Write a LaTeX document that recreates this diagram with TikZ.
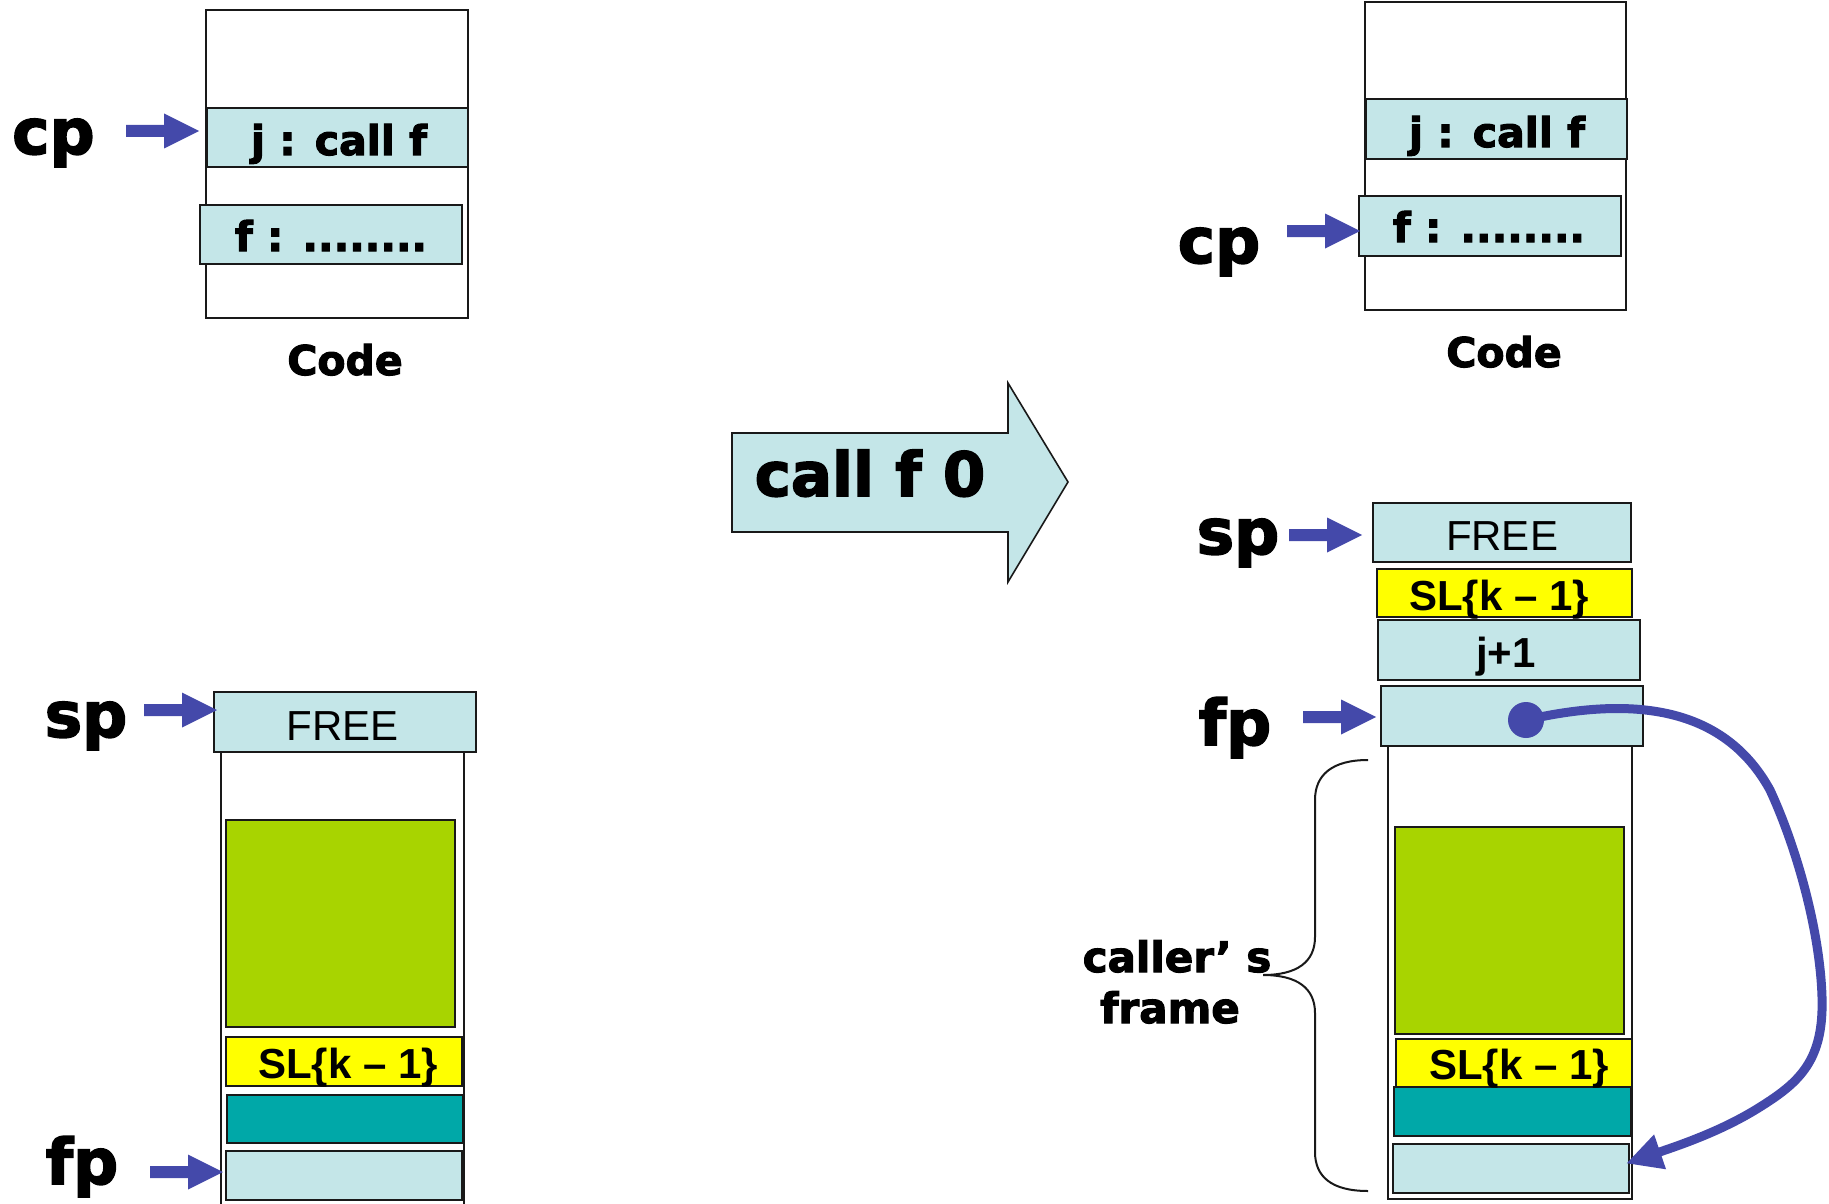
\documentclass[tikz,border=0pt]{standalone}
\usepackage{fontspec}
\setmainfont{Liberation Sans}
\newfontfamily\heavy{DejaVu Sans Bold}[FakeBold=2.5]
\usetikzlibrary{arrows.meta,calc}

\definecolor{cellcyan}{RGB}{196,230,232}
\definecolor{framegreen}{RGB}{168,212,0}
\definecolor{slyellow}{RGB}{255,255,0}
\definecolor{linkteal}{RGB}{0,168,168}
\definecolor{ptrblue}{RGB}{68,73,170}
\definecolor{edge}{RGB}{25,25,25}

\tikzset{
  box/.style={draw=edge, line width=2pt, inner sep=0pt, outer sep=0pt, anchor=north west},
  cell/.style={box, fill=cellcyan},
  greencell/.style={box, fill=framegreen},
  slcell/.style={box, fill=slyellow},
  tealcell/.style={box, fill=linkteal},
  codebox/.style={box, fill=white, line width=2.5pt},
  bigtxt/.style={inner sep=0pt, anchor=base, font=\heavy\fontsize{41}{48}\selectfont},
  regname/.style={inner sep=0pt, anchor=base, font=\heavy\fontsize{63}{70}\selectfont},
  plaintxt/.style={inner sep=0pt, anchor=base, font=\fontsize{42}{48}\selectfont},
  boldtxt/.style={inner sep=0pt, anchor=base, font=\bfseries\fontsize{42}{48}\selectfont},
  pointer/.pic={
    \fill[ptrblue] (-73,-6) -- (-35,-6) -- (-35,-17.5) -- (0,0)
      -- (-35,17.5) -- (-35,6) -- (-73,6) -- cycle;
  },
  link/.style={draw=ptrblue, line width=9pt, line cap=round, line join=round,
    -{Triangle[length=36pt,width=34pt]}},
}

\begin{document}
\begin{tikzpicture}[x=1pt,y=-1pt]
\useasboundingbox (0,0) rectangle (1829,1204);

% ---------- code memory before the call ----------
\node[codebox, minimum width=262, minimum height=308] (codeL) at (206,10) {};
\node[cell, minimum width=261, minimum height=59] (jL) at (207,108) {};
\node[cell, minimum width=262, minimum height=59] (fL) at (200,205) {};
\node[bigtxt] (jLt) at (339,155) {j : call f};
\node[bigtxt] (fLt) at (331,251) {f : ........};
\node[bigtxt] (codeLt) at (345,375) {Code};
\node[regname, anchor=base west] (cpL) at (12,154) {cp};
\pic at (199,131) {pointer};

% ---------- stack before the call ----------
\draw[edge, line width=2pt] (221,752) -- (221,1210) (464,752) -- (464,1210);
\node[cell, minimum width=262, minimum height=60] (freeL) at (214,692) {};
\node[greencell, minimum width=229, minimum height=207] (greenL) at (226,820) {};
\node[slcell, minimum width=236, minimum height=49] (slL) at (226,1037) {};
\node[tealcell, minimum width=236, minimum height=48] (tealL) at (227,1095) {};
\node[cell, minimum width=236, minimum height=49] (fpboxL) at (226,1151) {};
\node[plaintxt] (freeLt) at (343,740) {FREE};
\node[boldtxt] (slLt) at (348,1078) {SL\{k – 1\}};
\node[regname] (spL) at (86,737) {sp};
\node[regname] (fpL) at (82,1184) {fp};
\pic at (217,710) {pointer};
\pic at (223,1172) {pointer};

% ---------- the instruction ----------
\draw[fill=cellcyan, draw=edge, line width=1.6pt, line join=miter]
  (732,433) -- (1008,433) -- (1008,383) -- (1068,482) -- (1008,582)
  -- (1008,532) -- (732,532) -- cycle;
\node[inner sep=0pt, anchor=base, font=\heavy\fontsize{61}{68}\selectfont]
  (callt) at (870,496) {call f 0};

% ---------- code memory after the call ----------
\node[codebox, minimum width=261, minimum height=308] (codeR) at (1365,2) {};
\node[cell, minimum width=261, minimum height=60] (jR) at (1366,99) {};
\node[cell, minimum width=262, minimum height=60] (fR) at (1359,196) {};
\node[bigtxt] (jRt) at (1497,147) {j : call f};
\node[bigtxt] (fRt) at (1489,242) {f : ........};
\node[bigtxt] (codeRt) at (1504,367) {Code};
\node[regname] (cpR) at (1219,263) {cp};
\pic at (1360,231) {pointer};

% ---------- stack after the call ----------
\draw[box, fill=white] (1388,746) rectangle (1632,1199);
\node[cell, minimum width=258, minimum height=59] (freeR) at (1373,503) {};
\node[slcell, minimum width=255, minimum height=48] (slR) at (1377,569) {};
\node[cell, minimum width=262, minimum height=60] (retR) at (1378,620) {};
\node[cell, minimum width=262, minimum height=60] (fpboxR) at (1381,686) {};
\node[greencell, minimum width=229, minimum height=207] (greenR) at (1395,827) {};
\node[slcell, minimum width=236, minimum height=48] (slR2) at (1396,1039) {};
\node[tealcell, minimum width=237, minimum height=49] (tealR) at (1394,1087) {};
\node[cell, minimum width=236, minimum height=49] (callerfp) at (1393,1144) {};
\node[plaintxt] (freeRt) at (1502,550) {FREE};
\node[boldtxt] (slRt) at (1499,610) {SL\{k – 1\}};
\node[boldtxt] (retRt) at (1506,667) {j+1};
\node[boldtxt] (slR2t) at (1519,1079) {SL\{k – 1\}};
\node[regname] (spR) at (1238,554) {sp};
\node[regname] (fpR) at (1235,745) {fp};
\pic at (1362,535) {pointer};
\pic at (1376,717) {pointer};

% brace marking the caller's frame
\draw[edge, line width=2pt]
  (1368,760) .. controls (1332,760) and (1315,775) .. (1315,800)
  -- (1315,937) .. controls (1315,962) and (1297,975) .. (1263,975)
  .. controls (1297,975) and (1315,988) .. (1315,1013)
  -- (1315,1152) .. controls (1315,1177) and (1332,1191) .. (1368,1191);
\node[bigtxt, font=\heavy\fontsize{42}{48}\selectfont] (callert) at (1177,972) {caller’ s};
\node[bigtxt, font=\heavy\fontsize{42}{48}\selectfont] (framet) at (1170,1023) {frame};

% saved frame pointer linking back to the caller's frame
\node[circle, fill=ptrblue, minimum size=36pt, inner sep=0pt] (dot) at (1526,720) {};
\draw[link] (dot.center) .. controls (1640,694) and (1726,710) .. (1770,790)
  .. controls (1796,846) and (1820,930) .. (1822,997)
  .. controls (1824,1060) and (1800,1082) .. (1760,1107)
  .. controls (1722,1131) and (1680,1145) .. ($(callerfp.east)+(-3,-5)$);
\end{tikzpicture}
\end{document}
